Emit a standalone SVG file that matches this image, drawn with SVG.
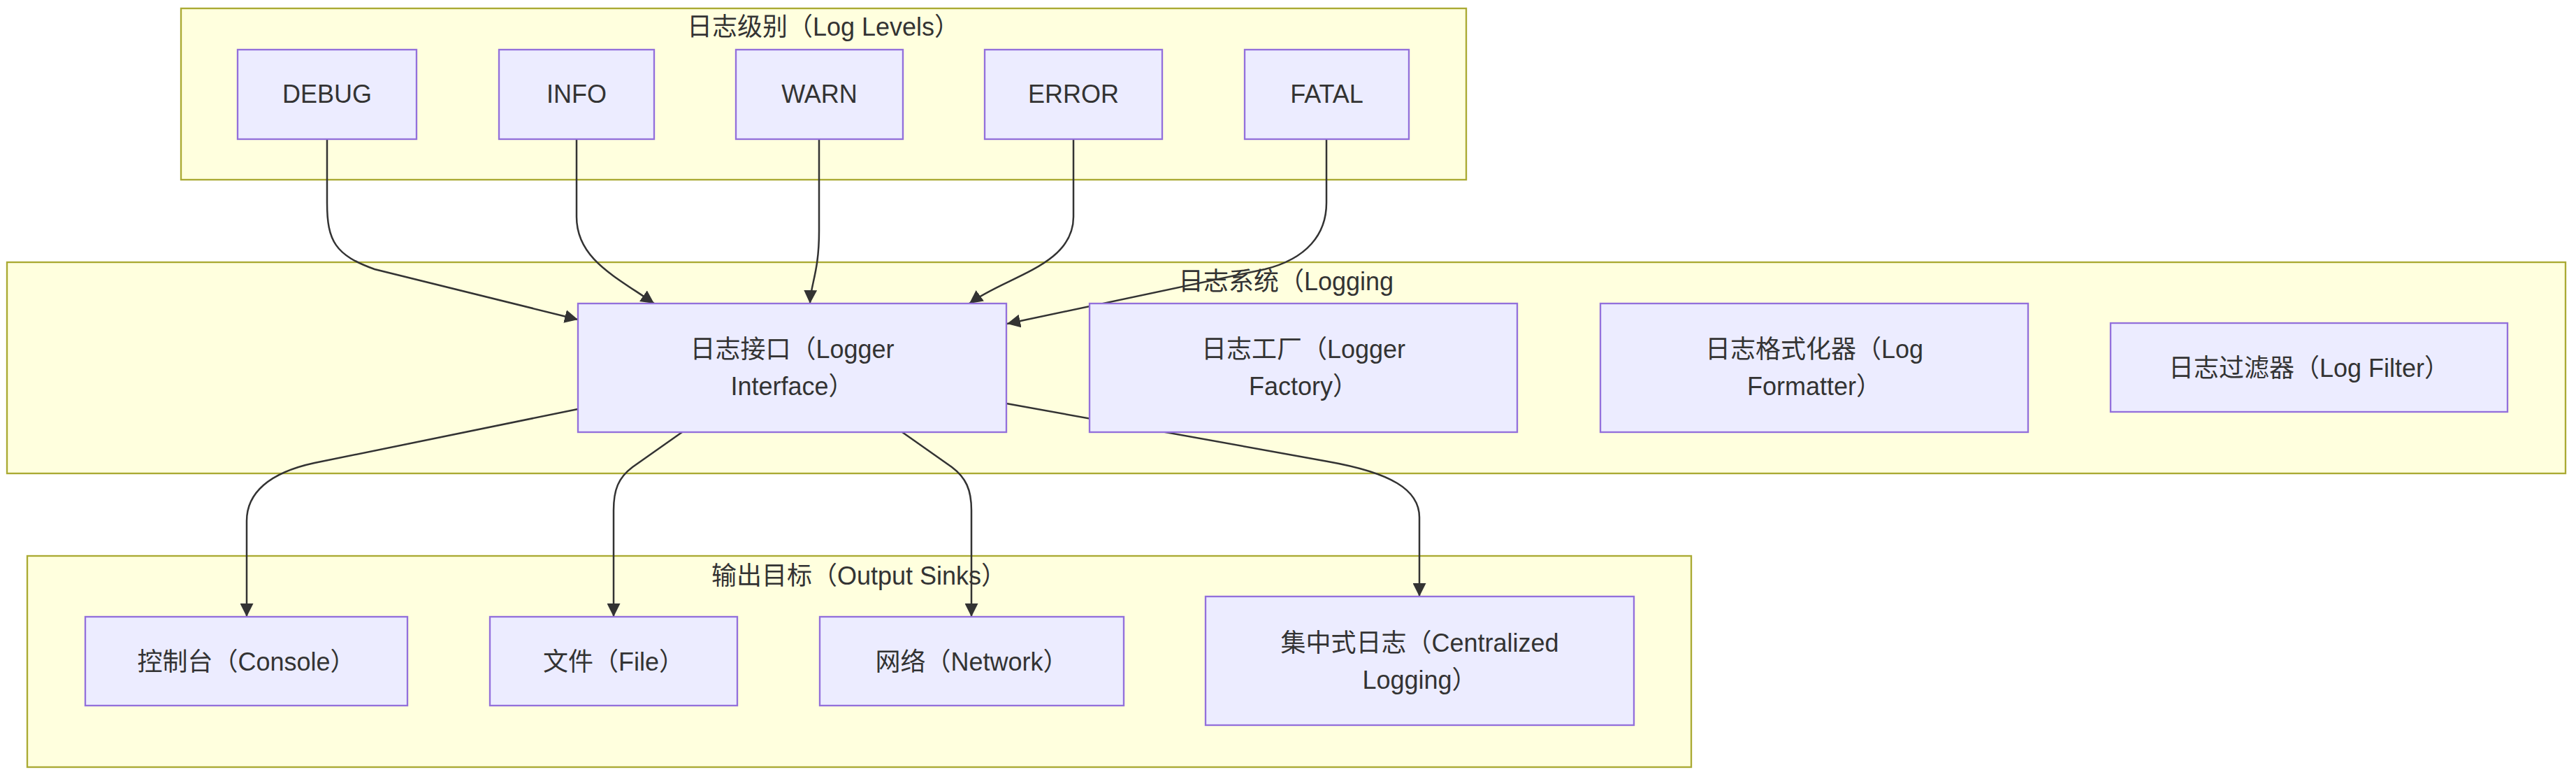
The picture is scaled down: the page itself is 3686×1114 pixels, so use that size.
<svg xmlns="http://www.w3.org/2000/svg" width="3686" height="1114" viewBox="0 0 3686 1114">
<style>
.cluster{fill:#ffffde;stroke:#aaaa33;stroke-width:2.35}
.node{fill:#ececff;stroke:#9370db;stroke-width:2.35}
text{font-family:"Liberation Sans","Noto Sans CJK SC",sans-serif;font-size:36px;fill:#333333;text-anchor:middle}
.edge{fill:none;stroke:#333333;stroke-width:2.5}
</style>
<defs>
<marker id="arrow" viewBox="0 0 10 10" refX="10" refY="5" markerUnits="userSpaceOnUse" markerWidth="19" markerHeight="19" orient="auto">
<path d="M0,0 L10,5 L0,10 z" fill="#333333"/>
</marker>
</defs>
<rect width="3686" height="1114" fill="#ffffff"/>
<g id="clusters">
<g id="cluster-levels"><rect class="cluster" x="259" y="12" width="1839" height="245"/><text x="1178" y="51">日志级别（Log Levels）</text></g>
<g id="cluster-logging"><rect class="cluster" x="10" y="375" width="3661" height="302"/><text x="1840" y="415">日志系统（Logging</text></g>
<g id="cluster-sinks"><rect class="cluster" x="39" y="795" width="2381" height="302"/><text x="1229" y="836">输出目标（Output Sinks）</text></g>
</g>
<g id="connectors">
<path class="edge" marker-end="url(#arrow)" d="M468,199 L468,290 C468,345 480,365 536,385 L827,457"/>
<path class="edge" marker-end="url(#arrow)" d="M825,199 L825,310 C825,370 880,395 936,434"/>
<path class="edge" marker-end="url(#arrow)" d="M1172,199 L1172,330 C1172,390 1160,405 1159,434"/>
<path class="edge" marker-end="url(#arrow)" d="M1536,199 L1536,310 C1536,380 1440,395 1387,434"/>
<path class="edge" marker-end="url(#arrow)" d="M1898,199 L1898,290 C1898,335 1870,370 1810,385 L1441,463"/>
<path class="edge" marker-end="url(#arrow)" d="M827,585 L450,662 C385,676 353,705 353,745 L353,882"/>
<path class="edge" marker-end="url(#arrow)" d="M976,618 L905,668 C885,683 878,700 878,730 L878,882"/>
<path class="edge" marker-end="url(#arrow)" d="M1291,618 L1362,668 C1382,683 1390,700 1390,730 L1390,882"/>
<path class="edge" marker-end="url(#arrow)" d="M1440,577 L1900,660 C1990,676 2031,700 2031,740 L2031,853"/>
</g>
<g id="node-debug"><rect class="node" x="340" y="71" width="256" height="128"/><text x="468" y="147">DEBUG</text></g>
<g id="node-info"><rect class="node" x="714" y="71" width="222" height="128"/><text x="825" y="147">INFO</text></g>
<g id="node-warn"><rect class="node" x="1053" y="71" width="239" height="128"/><text x="1172.5" y="147">WARN</text></g>
<g id="node-error"><rect class="node" x="1409" y="71" width="254" height="128"/><text x="1536" y="147">ERROR</text></g>
<g id="node-fatal"><rect class="node" x="1781" y="71" width="235" height="128"/><text x="1898.5" y="147">FATAL</text></g>
<g id="node-interface"><rect class="node" x="827" y="434" width="613" height="184"/><text x="1133.5" y="512">日志接口（Logger</text><text x="1133.5" y="565">Interface）</text></g>
<g id="node-factory"><rect class="node" x="1559" y="434" width="612" height="184"/><text x="1865" y="512">日志工厂（Logger</text><text x="1865" y="565">Factory）</text></g>
<g id="node-formatter"><rect class="node" x="2290" y="434" width="612" height="184"/><text x="2596" y="512">日志格式化器（Log</text><text x="2596" y="565">Formatter）</text></g>
<g id="node-filter"><rect class="node" x="3020" y="462" width="568" height="127"/><text x="3304" y="539">日志过滤器（Log Filter）</text></g>
<g id="node-console"><rect class="node" x="122" y="882" width="461" height="127"/><text x="352.5" y="959">控制台（Console）</text></g>
<g id="node-file"><rect class="node" x="701" y="882" width="354" height="127"/><text x="878" y="959">文件（File）</text></g>
<g id="node-network"><rect class="node" x="1173" y="882" width="435" height="127"/><text x="1390.5" y="959">网络（Network）</text></g>
<g id="node-centralized"><rect class="node" x="1725" y="853" width="613" height="184"/><text x="2031.5" y="932">集中式日志（Centralized</text><text x="2031.5" y="985">Logging）</text></g>
</svg>
